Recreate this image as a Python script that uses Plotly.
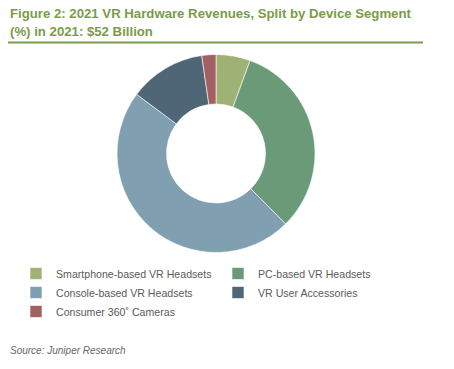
import plotly.graph_objects as go

# page is drawn with an 8px body margin: figure pixel = reference pixel - 8
OFF = 8
W, H = 454 - OFF, 369 - OFF
labels = ["Smartphone-based VR Headsets", "PC-based VR Headsets",
          "Console-based VR Headsets", "VR User Accessories",
          "Consumer 360˚ Cameras"]
values = [5.6, 32.0, 47.6, 12.5, 2.3]
colors = ["#9DB274", "#6B9A79", "#809FB0", "#4F6677", "#A35F61"]

title_lines = ["Figure 2: 2021 VR Hardware Revenues, Split by Device Segment",
               "(%) in 2021: $52 Billion"]
source = "Source: Juniper Research"


def px(x):
    return (x - OFF) / W


def py(y):
    return 1 - (y - OFF) / H


cx, cy, r = 216, 153.5, 99

fig = go.Figure(go.Pie(
    labels=labels, values=values, sort=False, direction="clockwise",
    rotation=0, hole=0.5, textinfo="none", hoverinfo="label+percent",
    marker=dict(colors=colors, line=dict(color="white", width=0.6)),
    domain=dict(x=[px(cx - r), px(cx + r)], y=[py(cy + r), py(cy - r)]),
))

green = "#7B9B4B"
for txt, yy in zip(title_lines, [14, 31]):
    fig.add_annotation(x=px(8), y=py(yy), xref="paper", yref="paper", xanchor="left",
                       yanchor="middle", text="<b>" + txt + "</b>", showarrow=False,
                       font=dict(family="Liberation Sans, Arial", size=13.2, color=green))
fig.add_shape(type="line", xref="paper", yref="paper", x0=0, x1=px(423),
              y0=py(42.5), y1=py(42.5), line=dict(color=green, width=2.2))
fig.add_annotation(x=px(8), y=py(350), xref="paper", yref="paper", xanchor="left",
                   yanchor="middle", text="<i>" + source + "</i>", showarrow=False,
                   font=dict(family="Liberation Sans, Arial", size=10, color="#666666"))

fig.update_layout(
    width=W, height=H, margin=dict(l=0, r=0, t=0, b=0),
    paper_bgcolor="white", plot_bgcolor="white",
    showlegend=True,
    legend=dict(orientation="h", x=px(16), y=py(259), xanchor="left", yanchor="top",
                entrywidth=157, entrywidthmode="pixels",
                font=dict(family="Liberation Sans, Arial", size=10.6, color="#5A5A5A"),
                itemwidth=30, traceorder="normal"),
)
fig.write_html("out.html")
